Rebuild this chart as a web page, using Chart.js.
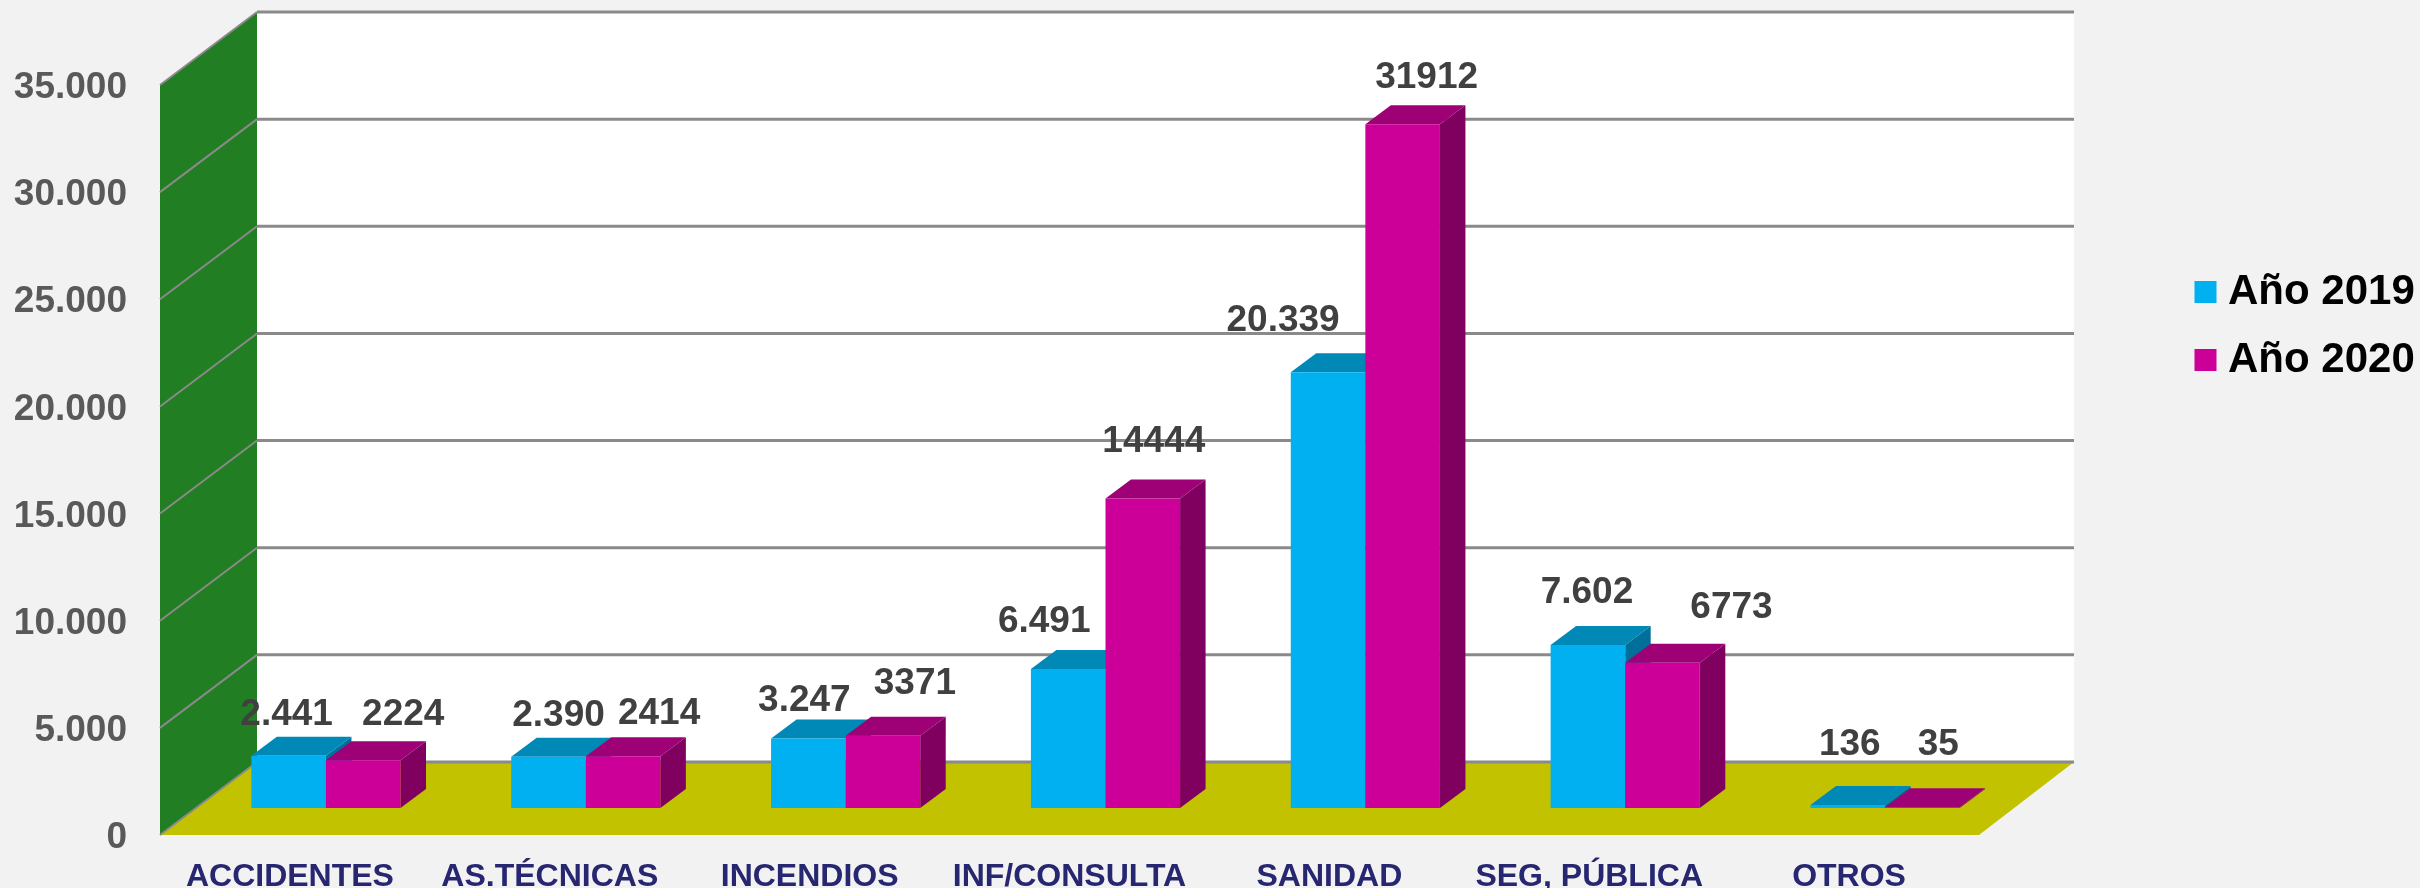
<!DOCTYPE html>
<html>
<head>
<meta charset="utf-8">
<title>Chart</title>
<script src="https://cdn.jsdelivr.net/npm/chart.js@4"></script>
<style>html,body{margin:0;padding:0;background:#F2F2F2}canvas{display:block}</style>
</head>
<body>
<canvas id="c" width="2420" height="888"></canvas>
<script>
const categories = ['ACCIDENTES','AS.TÉCNICAS','INCENDIOS','INF/CONSULTA','SANIDAD','SEG, PÚBLICA','OTROS'];
const seriesNames = ['Año 2019','Año 2020'];
const values2019 = [2441,2390,3247,6491,20339,7602,136];
const values2020 = [2224,2414,3371,14444,31912,6773,35];
const yMax = 35000, yStep = 5000;

// hand-placed data-label offsets, relative to the top centre of each bar's front face
const labelDx = [[-2,10,-4,-24,-45,-1,2],[40,36,32,11,24,69,16]];
const labelDy = [[-44,-44,-41,-50,-54,-55,-63],[-49,-45,-55,-60,-49,-58,-65]];
const LABEL_NUDGE = 3; // canvas "middle" sits a little above the digit centre

const FONT = '"Liberation Sans", Arial, sans-serif';
const WALL='#217E22', FLOOR='#C2C200', BACK='#FFFFFF', GRID='#8A8A8A';
const FRONT=['#00B0F0','#CC0099'], TOP=['#0088B6','#9E0076'], SIDE=['#006F99','#800060'];
const BOX_DX=97, BOX_DX_RIGHT=95, BOX_DY=-73; // depth of the plot box
const BAR_SHIFT_X=36, BAR_SHIFT_Y=-27;        // bars stand inside the floor
const BAR_DX=25.5, BAR_DY=-19;                // depth of each bar

const fmtDot = v => String(v).replace(/\B(?=(\d{3})+$)/g,'.');

function poly(ctx,pts,fill){
  ctx.beginPath();
  pts.forEach((p,i)=> i?ctx.lineTo(p[0],p[1]):ctx.moveTo(p[0],p[1]));
  ctx.closePath();
  ctx.fillStyle=fill;
  ctx.fill();
}

const box3d = {
  id:'box3d',
  afterLayout(chart){
    const lg = chart.legend;
    const w = lg.width, h = lg.height;
    lg.left = 2178; lg.top = 245; lg.right = lg.left + w; lg.bottom = lg.top + h;
  },
  beforeDatasetsDraw(chart){
    const ctx = chart.ctx, y = chart.scales.y, a = chart.chartArea;
    const L=a.left, R=a.right, T=y.getPixelForValue(yMax), B=y.getPixelForValue(0);
    const BR=R+BOX_DX_RIGHT;
    ctx.save();
    // back wall, side wall, floor
    poly(ctx,[[L+BOX_DX,T+BOX_DY],[BR,T+BOX_DY],[BR,B+BOX_DY],[L+BOX_DX,B+BOX_DY]],BACK);
    poly(ctx,[[L,T],[L+BOX_DX,T+BOX_DY],[L+BOX_DX,B+BOX_DY],[L,B]],WALL);
    poly(ctx,[[L,B],[L+BOX_DX,B+BOX_DY],[BR,B+BOX_DY],[R,B]],FLOOR);
    // grid lines from the library's ticks
    ctx.strokeStyle=GRID;
    y.ticks.forEach(t=>{
      const py=y.getPixelForValue(t.value);
      ctx.lineWidth=2;
      ctx.beginPath();ctx.moveTo(L,py);ctx.lineTo(L+BOX_DX,py+BOX_DY);ctx.stroke();
      ctx.lineWidth=3;
      ctx.beginPath();ctx.moveTo(L+BOX_DX,py+BOX_DY);ctx.lineTo(BR,py+BOX_DY);ctx.stroke();
    });
    // bars: series 1 then series 2, each with its depth faces behind the front
    ctx.translate(BAR_SHIFT_X,BAR_SHIFT_Y);
    [0,1].forEach(di=>{
      const meta=chart.getDatasetMeta(di);
      meta.data.forEach(bar=>{
        const l=bar.x-bar.width/2, r=bar.x+bar.width/2, t=bar.y, b=bar.base;
        poly(ctx,[[r,t],[r+BAR_DX,t+BAR_DY],[r+BAR_DX,b+BAR_DY],[r,b]],SIDE[di]);
        poly(ctx,[[l,t],[l+BAR_DX,t+BAR_DY],[r+BAR_DX,t+BAR_DY],[r,t]],TOP[di]);
      });
      meta.controller.draw();
    });
    // data labels
    ctx.font='bold 37px '+FONT;
    ctx.fillStyle='#404040';
    ctx.textAlign='center';
    ctx.textBaseline='middle';
    [0,1].forEach(di=>{
      chart.getDatasetMeta(di).data.forEach((bar,i)=>{
        const v=chart.data.datasets[di].data[i];
        const txt=di===0?fmtDot(v):String(v);
        ctx.fillText(txt,bar.x+labelDx[di][i],bar.y+labelDy[di][i]+LABEL_NUDGE);
      });
    });
    ctx.restore();
    return false; // drawing order handled above
  }
};

new Chart(document.getElementById('c'),{
  type:'bar',
  data:{
    labels:categories,
    datasets:[
      {label:seriesNames[0],data:values2019,backgroundColor:FRONT[0],borderWidth:0,categoryPercentage:0.574,barPercentage:1},
      {label:seriesNames[1],data:values2020,backgroundColor:FRONT[1],borderWidth:0,categoryPercentage:0.574,barPercentage:1}
    ]
  },
  options:{
    responsive:false,
    animation:false,
    layout:{padding:{left:0,top:85,right:441,bottom:0}},
    plugins:{
      tooltip:{enabled:false},
      title:{display:false},
      legend:{
        position:'chartArea',
        align:'start',
        labels:{
          color:'#000000',
          font:{family:FONT,size:42,weight:'bold'},
          boxWidth:3,boxHeight:3,padding:26,
          generateLabels(chart){
            return Chart.defaults.plugins.legend.labels.generateLabels(chart).map(it=>
              Object.assign(it,{lineWidth:19,strokeStyle:it.fillStyle}));
          }
        }
      }
    },
    scales:{
      x:{
        grid:{display:false},border:{display:false},
        afterFit(s){s.height=53;},
        ticks:{color:'#262671',font:{family:FONT,size:32,weight:'bold'},padding:15,maxRotation:0,minRotation:0,autoSkip:false}
      },
      y:{
        min:0,max:yMax,
        grid:{display:false},border:{display:false},
        afterFit(s){s.width=160;s.paddingBottom=0;s.paddingTop=0;},
        ticks:{stepSize:yStep,color:'#595959',font:{family:FONT,size:37,weight:'bold'},padding:25,labelOffset:3,callback:v=>fmtDot(v)}
      }
    }
  },
  plugins:[box3d]
});
</script>
</body>
</html>
